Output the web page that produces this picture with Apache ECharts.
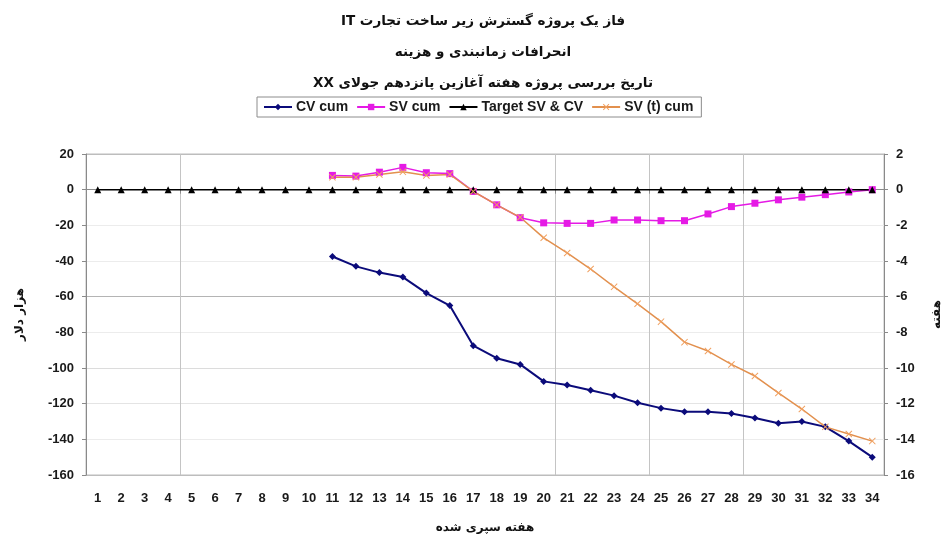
<!DOCTYPE html>
<html>
<head>
<meta charset="utf-8">
<script src="https://cdn.jsdelivr.net/npm/echarts@6/dist/echarts.min.js"></script>
<style>
  html, body { margin: 0; padding: 0; background: #fff; }
  #chart { width: 948px; height: 538px; }
</style>
</head>
<body>
<div id="chart"></div>
<script>
// Weeks elapsed (x axis categories)
const weeks = ['1','2','3','4','5','6','7','8','9','10','11','12','13','14','15','16','17',
               '18','19','20','21','22','23','24','25','26','27','28','29','30','31','32','33','34'];

// Cumulative cost variance, thousand dollars (weeks 11-34)
const cvCum = [null,null,null,null,null,null,null,null,null,null,
  -37.5,-43,-46.5,-49,-58,-65,-87.5,-94.5,-98,-107.5,-109.5,-112.5,-115.5,-119.5,
  -122.5,-124.5,-124.5,-125.5,-128,-131,-130,-133,-141,-150];

// Cumulative schedule variance, thousand dollars
const svCum = [null,null,null,null,null,null,null,null,null,null,
  8,7.6,9.8,12.5,9.5,9,-1,-8.5,-15.7,-18.6,-18.9,-18.9,-17,-17,
  -17.4,-17.4,-13.6,-9.5,-7.6,-5.7,-4.2,-2.8,-1.3,0];

// Target for SV and CV
const target = [0,0,0,0,0,0,0,0,0,0,0,0,0,0,0,0,0,0,0,0,0,0,0,0,0,0,0,0,0,0,0,0,0,0];

// Cumulative time-based schedule variance, weeks (right axis)
const svtCum = [null,null,null,null,null,null,null,null,null,null,
  0.7,0.7,0.85,1.0,0.8,0.85,-0.1,-0.85,-1.55,-2.7,-3.55,-4.45,-5.45,-6.4,
  -7.4,-8.55,-9.05,-9.8,-10.45,-11.4,-12.3,-13.3,-13.7,-14.1];

// Axis tick labels
const leftTicks = [20,0,-20,-40,-60,-80,-100,-120,-140,-160];
const rightTicks = [2,0,-2,-4,-6,-8,-10,-12,-14,-16];

// Title lines (RTL embedding keeps the Latin words on the left end)
const titleLines = [
  '\u202Bفاز یک پروژه گسترش زیر ساخت تجارت IT\u202C',
  '\u202Bانحرافات زمانبندی و هزینه\u202C',
  '\u202Bتاریخ بررسی پروژه هفته آغازین پانزدهم جولای XX\u202C'
];

const seriesNames = ['CV cum', 'SV cum', 'Target SV & CV', 'SV (t) cum'];

const arabicFont = "'DejaVu Sans', 'Noto Sans', sans-serif";
const latinFont = "'Liberation Sans', Arial, sans-serif";
const labelStyle = { color: '#1a1a1a', fontFamily: latinFont, fontWeight: 'bold', fontSize: 13 };

// Category boundaries that carry a vertical gridline / tick
const markedBounds = [4, 20, 24, 28];

const xMark = 'path://M0,1L1,0L5,4L9,0L10,1L6,5L10,9L9,10L5,6L1,10L0,9L4,5Z';

const chart = echarts.init(document.getElementById('chart'), null, { renderer: 'canvas' });

chart.setOption({
  backgroundColor: '#ffffff',
  animation: false,
  title: titleLines.map((t, i) => ({
    text: t,
    left: 478,
    textAlign: 'center',
    top: [9, 40, 71][i],
    textStyle: { fontFamily: arabicFont, fontWeight: 'bold', fontSize: 13.5, color: '#111' }
  })),
  legend: {
    data: seriesNames,
    left: 257,
    top: 97,
    padding: [3, 8, 3, 6],
    itemGap: 8,
    itemWidth: 28,
    itemHeight: 8,
    borderColor: '#8c8c8c',
    borderWidth: 1,
    textStyle: { color: '#1a1a1a', fontFamily: latinFont, fontWeight: 'bold', fontSize: 14, padding: [0, 0, 0, -1] }
  },
  grid: {
    left: 86, right: 64, top: 154, bottom: 63,
    outerBoundsMode: 'none',
    containLabel: false,
    show: true, borderColor: '#bdbdbd', borderWidth: 1
  },
  xAxis: {
    type: 'category',
    data: weeks,
    boundaryGap: true,
    name: 'هفته سپری شده',
    nameLocation: 'middle',
    nameGap: 47,
    nameTextStyle: { fontFamily: arabicFont, fontWeight: 'bold', fontSize: 12, color: '#111' },
    axisLine: { lineStyle: { color: '#8a8a8a', width: 1 } },
    axisTick: { show: true, length: 4, interval: (i) => markedBounds.includes(i), lineStyle: { color: '#8a8a8a' } },
    axisLabel: Object.assign({ interval: 0, margin: 17 }, labelStyle),
    splitLine: { show: true, interval: (i) => markedBounds.includes(i), lineStyle: { color: '#c4c4c4', width: 1 } }
  },
  yAxis: [
    {
      type: 'value',
      min: leftTicks[leftTicks.length - 1],
      max: leftTicks[0],
      interval: 20,
      name: 'هزار دلار',
      nameLocation: 'middle',
      nameRotate: 90,
      nameGap: 60,
      nameTextStyle: { fontFamily: arabicFont, fontWeight: 'bold', fontSize: 12, color: '#111' },
      axisLine: { show: true, lineStyle: { color: '#8a8a8a' } },
      axisTick: { show: true, length: 4, lineStyle: { color: '#8a8a8a' } },
      axisLabel: Object.assign({ margin: 12 }, labelStyle),
      splitLine: {
        show: true,
        lineStyle: {
          color: ['#bdbdbd','#ececec','#e4e4e4','#dcdcdc','#ececec','#b4b4b4','#ececec','#ececec','#e6e6e6','#bdbdbd']
        }
      }
    },
    {
      type: 'value',
      min: rightTicks[rightTicks.length - 1],
      max: rightTicks[0],
      interval: 2,
      position: 'right',
      name: 'هفته',
      nameLocation: 'middle',
      nameRotate: 90,
      nameGap: 47,
      nameTextStyle: { fontFamily: arabicFont, fontWeight: 'bold', fontSize: 12, color: '#111' },
      axisLine: { show: true, lineStyle: { color: '#8a8a8a' } },
      axisTick: { show: true, length: 4, lineStyle: { color: '#8a8a8a' } },
      axisLabel: Object.assign({ margin: 12 }, labelStyle),
      splitLine: { show: false }
    }
  ],
  series: [
    {
      name: seriesNames[0], type: 'line', yAxisIndex: 0, data: cvCum,
      symbol: 'diamond', symbolSize: 7,
      lineStyle: { color: '#0b0b7a', width: 2 },
      itemStyle: { color: '#0b0b7a' }
    },
    {
      name: seriesNames[1], type: 'line', yAxisIndex: 0, data: svCum,
      symbol: 'rect', symbolSize: 7,
      lineStyle: { color: '#e51ae5', width: 1.5 },
      itemStyle: { color: '#e51ae5' }
    },
    {
      name: seriesNames[2], type: 'line', yAxisIndex: 0, data: target,
      symbol: 'triangle', symbolSize: 7,
      lineStyle: { color: '#000000', width: 1.5 },
      itemStyle: { color: '#000000' }
    },
    {
      name: seriesNames[3], type: 'line', yAxisIndex: 1, data: svtCum,
      symbol: xMark, symbolSize: 7,
      lineStyle: { color: '#e2904e', width: 1.5 },
      itemStyle: { color: '#f0a060' }
    }
  ]
});
</script>
</body>
</html>
